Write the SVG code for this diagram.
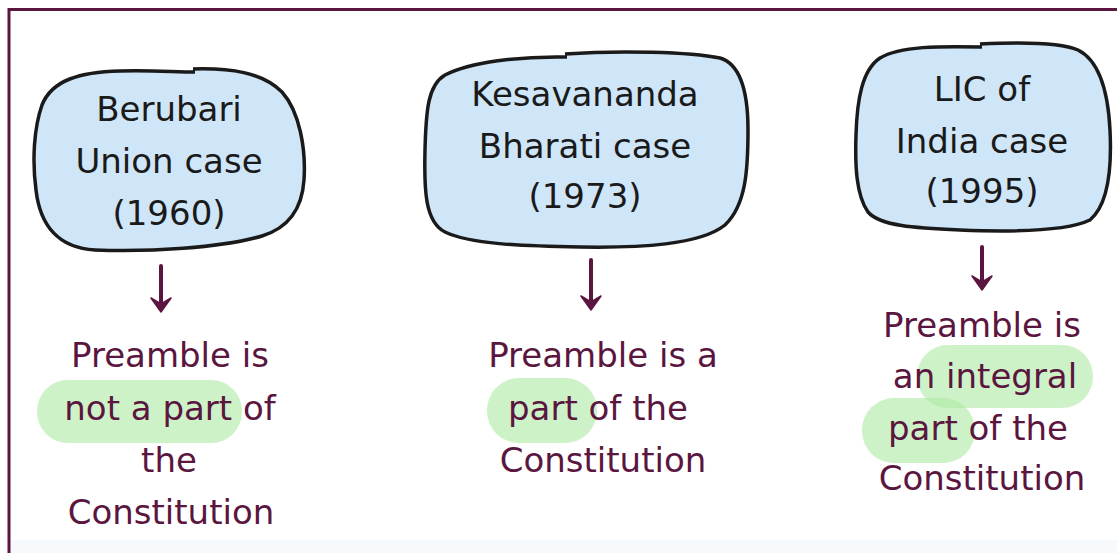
<svg xmlns="http://www.w3.org/2000/svg" width="1117" height="553" viewBox="0 0 1117 553">
  <style>
    .blob{fill:#cfe5f8;stroke:#1a1a1a;stroke-width:3.5;stroke-linejoin:round}
    .bt{font-family:"DejaVu Sans",sans-serif;font-size:34px;fill:#1a1a1a;text-anchor:middle}
    .rt{font-family:"DejaVu Sans",sans-serif;font-size:34px;fill:#5b1640;text-anchor:middle}
    .hl{fill:#aeeaa2;opacity:0.6}
    .arr{stroke:#5b1640;stroke-width:4;fill:none;stroke-linecap:round}
    .head{fill:#5b1640;stroke:#5b1640;stroke-width:1.5;stroke-linejoin:round}
  </style>
  <rect width="1117" height="553" fill="#ffffff"/>
  <rect x="10" y="540" width="1107" height="13" fill="#f6fafd"/>
  <g id="frame" fill="none" stroke="#5b1640" stroke-width="3">
    <path d="M9,553 L9,9.5 L1117,9.5"/>
  </g>

  <g id="berubari">
    <path class="blob" d="M193,69 C230,68 262,72 282,92 C300,112 306,150 304,180 C302,210 288,228 262,236 C220,248 150,252 95,250 C58,248 40,225 36,190 C32,160 34,128 42,105 C52,80 80,72 120,71 C150,70 175,72 195,72"/>
    <text class="bt" x="169" y="121">Berubari</text>
    <text class="bt" x="169" y="173">Union case</text>
    <text class="bt" x="169" y="225">(1960)</text>
  </g>

  <g id="kesavananda">
    <path class="blob" d="M565,54 C620,50 690,52 720,58 C740,64 748,90 748,130 C748,170 746,205 725,225 C700,245 640,248 580,247 C520,246 470,244 445,232 C425,222 424,190 425,150 C426,110 428,85 445,75 C470,62 520,56 567,57"/>
    <text class="bt" x="585" y="106">Kesavananda</text>
    <text class="bt" x="585" y="158">Bharati case</text>
    <text class="bt" x="585" y="208">(1973)</text>
  </g>

  <g id="lic">
    <path class="blob" d="M980,44 C1020,42 1060,42 1078,50 C1098,60 1108,90 1110,130 C1112,170 1108,205 1090,220 C1065,232 1010,232 960,230 C915,228 880,226 868,212 C856,195 855,165 856,135 C857,100 862,70 880,58 C900,46 940,46 982,47"/>
    <text class="bt" x="982" y="101">LIC of</text>
    <text class="bt" x="982" y="153">India case</text>
    <text class="bt" x="982" y="203">(1995)</text>
  </g>

  <g id="connectors">
    <line class="arr" x1="161" y1="266" x2="161" y2="306"/>
    <path class="head" d="M151,298 L161,312 L171,298 L161,304 Z"/>
    <line class="arr" x1="591" y1="260" x2="591" y2="304"/>
    <path class="head" d="M581,296 L591,310 L601,296 L591,302 Z"/>
    <line class="arr" x1="982" y1="247" x2="982" y2="284"/>
    <path class="head" d="M972,276 L982,290 L992,276 L982,282 Z"/>
  </g>

  <g id="result1">
    <rect class="hl" x="37" y="380" width="205" height="63" rx="31"/>
    <text class="rt" x="170" y="367">Preamble is</text>
    <text class="rt" x="170" y="420">not a part of</text>
    <text class="rt" x="169" y="472">the</text>
    <text class="rt" x="171" y="524">Constitution</text>
  </g>

  <g id="result2">
    <rect class="hl" x="487" y="378" width="110" height="65" rx="32"/>
    <text class="rt" x="603" y="367">Preamble is a</text>
    <text class="rt" x="598" y="420">part of the</text>
    <text class="rt" x="603" y="472">Constitution</text>
  </g>

  <g id="result3">
    <rect class="hl" x="917" y="345" width="176" height="63" rx="31"/>
    <rect class="hl" x="862" y="398" width="113" height="65" rx="32"/>
    <text class="rt" x="982" y="337">Preamble is</text>
    <text class="rt" x="985" y="388">an integral</text>
    <text class="rt" x="978" y="440">part of the</text>
    <text class="rt" x="982" y="490">Constitution</text>
  </g>
</svg>
